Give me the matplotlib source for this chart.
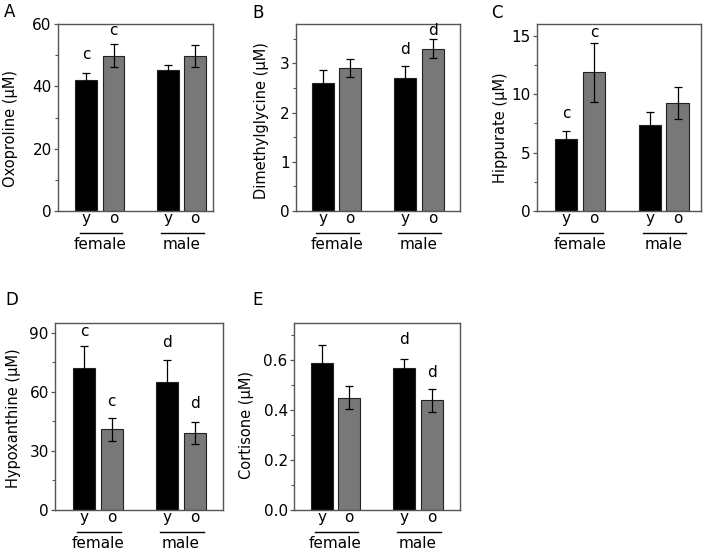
import matplotlib
matplotlib.use("Agg")
import matplotlib.pyplot as plt
from matplotlib.lines import Line2D
import matplotlib.transforms as mtransforms

plt.rcParams['font.family'] = ['DejaVu Sans']

# ---------------- data ----------------
groups = ["female", "male"]
ages = ["y", "o"]

oxo_mean = [42.0, 49.8, 45.1, 49.8]
oxo_err = [2.2, 3.7, 1.8, 3.5]
oxo_letters = ["c", "c", "", ""]
oxo_letter_y = [50.1, 57.8, 0, 0]

dmg_mean = [2.61, 2.90, 2.71, 3.30]
dmg_err = [0.25, 0.18, 0.24, 0.20]
dmg_letters = ["", "", "d", "d"]
dmg_letter_y = [0, 0, 3.29, 3.67]

hip_mean = [6.14, 11.86, 7.37, 9.23]
hip_err = [0.72, 2.5, 1.13, 1.34]
hip_letters = ["c", "c", "", ""]
hip_letter_y = [8.34, 15.3, 0, 0]

hyp_mean = [72.2, 40.9, 65.0, 39.2]
hyp_err = [11.3, 6.0, 11.4, 5.5]
hyp_letters = ["c", "c", "d", "d"]
hyp_letter_y = [90.8, 55.2, 84.9, 54.3]

cor_mean = [0.589, 0.451, 0.570, 0.440]
cor_err = [0.071, 0.046, 0.037, 0.047]
cor_letters = ["", "", "d", "d"]
cor_letter_y = [0, 0, 0.685, 0.553]

ylabels = ["Oxoproline (\u00b5M)", "Dimethylglycine (\u00b5M)", "Hippurate (\u00b5M)",
           "Hypoxanthine (\u00b5M)", "Cortisone (\u00b5M)"]
panel_letters = ["A", "B", "C", "D", "E"]

yticks_major = [[0, 20, 40, 60], [0, 1, 2, 3], [0, 5, 10, 15], [0, 30, 60, 90], [0.0, 0.2, 0.4, 0.6]]
yticks_minor = [[10, 30, 50], [0.5, 1.5, 2.5, 3.5], [2.5, 7.5, 12.5], [15, 45, 75], [0.1, 0.3, 0.5, 0.7]]
ytick_fmt = ["{:.0f}", "{:.0f}", "{:.0f}", "{:.0f}", "{:.1f}"]
ylims = [60, 3.8, 16, 95, 0.75]

means = [oxo_mean, dmg_mean, hip_mean, hyp_mean, cor_mean]
errs = [oxo_err, dmg_err, hip_err, hyp_err, cor_err]
letters = [oxo_letters, dmg_letters, hip_letters, hyp_letters, cor_letters]
letter_ys = [oxo_letter_y, dmg_letter_y, hip_letter_y, hyp_letter_y, cor_letter_y]

# ---------------- layout ----------------
W, H = 708, 553
fig = plt.figure(figsize=(W / 100, H / 100), dpi=100)

# axes boxes in pixels: left, top, right, bottom
boxes = [(58, 24, 213, 211), (296, 24, 460, 211), (537, 24, 701, 211),
         (55, 323, 223, 510), (294, 323, 460, 510)]
xlims = [(-1.04, 4.65), (-0.98, 5.0), (-1.04, 4.84), (-1.05, 5.02), (-1.0, 5.02)]
# pixel x of the right edge of each y-label, and pixel y of its centre
ylabel_px = [(18, 128), (269, 121), (508, 128), (21, 418), (254, 425)]
letter_pos = [(10, 12), (258, 13), (497, 13), (12, 300), (258, 300)]

positions = [0, 1, 3, 4]
colors = ["#000000", "#787878"]
spine_col = "#555555"

for i in range(5):
    l, t, r, b = boxes[i]
    ax = fig.add_axes([l / W, 1 - b / H, (r - l) / W, (b - t) / H])
    bar_cols = [colors[0], colors[1], colors[0], colors[1]]
    ax.bar(positions, means[i], width=0.8, color=bar_cols, edgecolor="#222222",
           linewidth=0.8, zorder=2)
    ax.errorbar(positions, means[i], yerr=errs[i], fmt="none", ecolor="black",
                elinewidth=0.9, capsize=3, capthick=0.9, zorder=3)
    ax.set_xlim(*xlims[i])
    ax.set_ylim(0, ylims[i])
    ax.set_yticks(yticks_major[i])
    ax.set_yticklabels([ytick_fmt[i].format(v) for v in yticks_major[i]])
    ax.set_yticks(yticks_minor[i], minor=True)
    ax.set_xticks([])
    for s in ax.spines.values():
        s.set_color(spine_col)
        s.set_linewidth(1.0)
    ax.tick_params(axis="y", which="major", direction="out", length=3, width=0.9,
                   color=spine_col, labelsize=11, pad=1.5)
    ax.tick_params(axis="y", which="minor", direction="out", length=2, width=0.8,
                   color=spine_col)
    ax.set_ylabel(ylabels[i], fontsize=10.5)
    lx, ly = ylabel_px[i]
    ax.yaxis.set_label_coords((lx - l) / (r - l), (b - ly) / (b - t))

    # significance letters
    for x, lt, lyv in zip(positions, letters[i], letter_ys[i]):
        if lt:
            ax.text(x, lyv, lt, ha="center", va="center", fontsize=11)

    # y / o labels, underline, group labels
    for g, start in enumerate([0, 3]):
        for k, a in enumerate(ages):
            ax.annotate(a, xy=(start + k, 0), xycoords=("data", "axes fraction"),
                        xytext=(0, -8.6), textcoords="offset points",
                        ha="center", va="baseline", fontsize=11, annotation_clip=False)
        off = mtransforms.ScaledTranslation(0, -15.5 / 72, fig.dpi_scale_trans)
        trans = mtransforms.blended_transform_factory(ax.transData, ax.transAxes) + off
        ln = Line2D([start - 0.25, start + 1.32], [0, 0], transform=trans,
                    color="black", linewidth=1.0, clip_on=False)
        ax.add_line(ln)
        ax.annotate(groups[g], xy=(start + 0.5, 0), xycoords=("data", "axes fraction"),
                    xytext=(0, -27.4), textcoords="offset points",
                    ha="center", va="baseline", fontsize=11, annotation_clip=False)

    px, py = letter_pos[i]
    fig.text(px / W, 1 - py / H, panel_letters[i], ha="center", va="center", fontsize=12)

fig.savefig("out.png", dpi=100)
